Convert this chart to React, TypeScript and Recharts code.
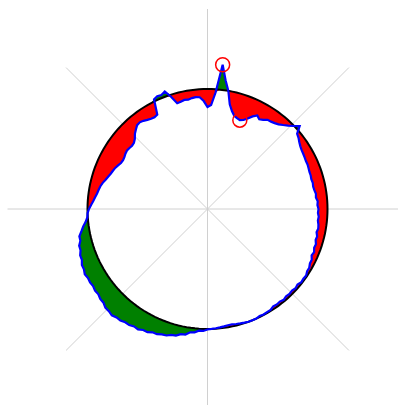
import React from "react";
import { RadarChart, Radar, PolarGrid, PolarAngleAxis, PolarRadiusAxis } from "recharts";

// measured profile, one reading every 2 degrees, clockwise from the top
const angles = Array.from({ length: 180 }, (_, i) => i * 2);
const profile = [
  102, 104, 117, 145, 130, 120, 107, 101, 97, 95.5,
  94.5, 96, 99, 103, 106, 103.5, 105, 107.5, 108, 109,
  110.5, 113, 116, 119.5, 124, 117, 115.5, 113.5, 112, 111,
  110.5, 110, 109.5, 109.5, 109, 108.5, 108.5, 108, 108.5, 108,
  108.5, 109.5, 109, 110.5, 110, 111, 110.5, 111.5, 111, 112,
  112.5, 111.5, 113, 112.5, 114, 113.5, 115, 114, 116, 116,
  117.5, 117.5, 119, 118.5, 119, 117.5, 118.5, 117.5, 118, 117.5,
  118.5, 117.5, 118, 117.5, 119, 119, 119.5, 119, 120, 120,
  120, 119.5, 119, 118.5, 118, 118, 118.5, 119, 119.5, 120,
  120.5, 122, 122, 124, 124.5, 127.5, 128, 130.5, 131, 133,
  133.5, 135, 135, 137, 137, 139, 138.5, 140, 140, 141.5,
  141.5, 143, 142, 142, 140, 140, 138.5, 139, 138, 138.5,
  138, 139, 137.5, 137.5, 135.5, 135.5, 133.5, 133.5, 131, 131,
  128, 125.5, 122.5, 120.5, 120, 118.5, 116.5, 114.5, 113, 111.5,
  110.5, 109.5, 108, 106, 104.5, 103, 102, 101, 99.5, 98,
  97.5, 98, 99, 99.5, 99, 98.5, 99, 101, 104.5, 107,
  109.5, 110, 109, 107.5, 106.5, 106, 107, 122, 123.5, 123,
  125, 118, 110, 110.5, 111.5, 111, 112, 112.5, 112, 108,
];
const reference = 120;
const spokes = [0, 45, 90, 135, 180, 225, 270, 315];

const maxIdx = profile.indexOf(Math.max(...profile));
const minIdx = profile.indexOf(Math.min(...profile));

const data = angles.map((a, i) => ({
  angle: a,
  profile: profile[i],
  reference,
  inside: [Math.min(profile[i], reference), reference],
  outside: [reference, Math.max(profile[i], reference)],
}));

// @ts-ignore
const markerDot = (props) => {
  const { cx, cy, index } = props;
  if (index !== maxIdx && index !== minIdx) return <g key={`d-${index}`} />;
  return <circle key={`d-${index}`} cx={cx} cy={cy} r={7} fill="none" stroke="#ff0000" strokeWidth={1.5} />;
};

export default function App() {
  return (
    <div style={{ position: "absolute", left: 0, top: 0, width: 398, height: 405, background: "#fff" }}>
      <RadarChart
        width={398}
        height={405}
        data={data}
        cx={207.5}
        cy={209}
        outerRadius={200}
        margin={{ top: 0, right: 0, bottom: 0, left: 0 }}
      >
        <PolarGrid polarAngles={spokes} polarRadius={[]} stroke="#d0d0d0" strokeWidth={1} />
        <PolarAngleAxis dataKey="angle" tick={false} axisLine={false} />
        <PolarRadiusAxis type="number" domain={[0, 200]} tick={false} axisLine={false} />
        <Radar dataKey="inside" stroke="none" fill="#ff0000" fillOpacity={1} isAnimationActive={false} />
        <Radar dataKey="outside" stroke="none" fill="#008000" fillOpacity={1} isAnimationActive={false} />
        <Radar dataKey="reference" stroke="#000000" strokeWidth={2} fill="none" isAnimationActive={false} />
        <Radar
          dataKey="profile"
          stroke="#0000ff"
          strokeWidth={2.2}
          fill="none"
          dot={markerDot}
          isAnimationActive={false}
        />
      </RadarChart>
    </div>
  );
}
